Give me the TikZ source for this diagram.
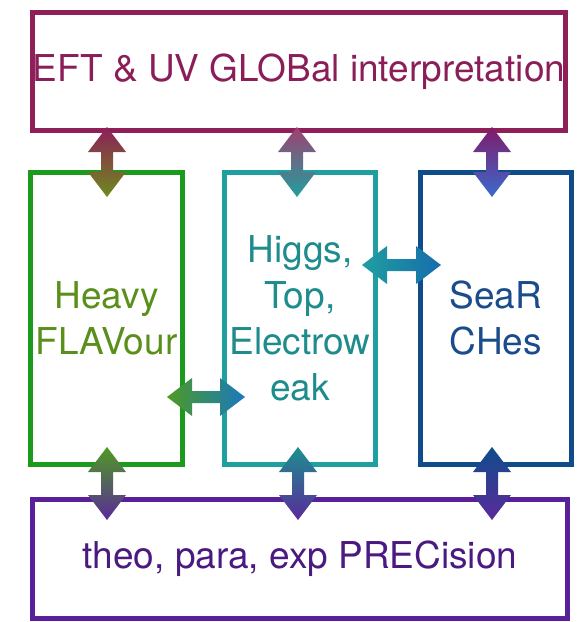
\documentclass[tikz,border=0pt]{standalone}
\usepackage{fontspec}
\setmainfont{TeX Gyre Heros}
\definecolor{cT}{HTML}{8E1F58}
\definecolor{cTt}{HTML}{8A1E58}
\definecolor{cL}{HTML}{1C9A1C}
\definecolor{cLt}{HTML}{5A8F1C}
\definecolor{cM}{HTML}{1F9F9F}
\definecolor{cMt}{HTML}{1E8C8C}
\definecolor{cR}{HTML}{0F4C8C}
\definecolor{cRt}{HTML}{1A4C8C}
\definecolor{cB}{HTML}{5A1F9A}
\definecolor{cBt}{HTML}{4A1A80}
\definecolor{aOl}{HTML}{6E8A1E}
\definecolor{aBl}{HTML}{3A6ACF}
\definecolor{aBh}{HTML}{1A78C0}
\definecolor{aGr}{HTML}{4E9A22}
\definecolor{aPu}{HTML}{5A2A9A}
\newcommand\myvarrow[5]{%
  \shade[top color=#4, bottom color=#5] (#1,#2) -- ++(19,25) -- ++(-13,0) -- (#1+6,#3-25) -- ++(13,0) -- (#1,#3) -- ++(-19,-25) -- ++(13,0) -- (#1-6,#2+25) -- ++(-13,0) -- cycle;}
\newcommand\myharrow[5]{%
  \shade[left color=#4, right color=#5] (#2,#1) -- ++(25,-19) -- ++(0,13) -- (#3-25,#1-6) -- ++(0,-13) -- (#3,#1) -- ++(-25,19) -- ++(0,-13) -- (#2+25,#1+6) -- ++(0,13) -- cycle;}
\tikzset{
  box/.style={draw, line width=5pt, inner sep=0pt, align=center,
    font=\fontsize{37}{46}\selectfont}
}
\begin{document}
\begin{tikzpicture}[x=1pt,y=-1pt]
\useasboundingbox (0,0) rectangle (580,622);
\node[box, draw=cT, text=cTt, minimum width=533pt, minimum height=118pt] (T) at (299,71.5) {EFT \& UV GLOBal interpretation};
\node[box, draw=cL, text=cLt, minimum width=152pt, minimum height=292pt] (L) at (106.5,318.5) {Heavy\\FLAVour};
\node[box, draw=cM, text=cMt, minimum width=151pt, minimum height=292pt] (M) at (300,318.5) {Higgs,\\Top,\\Electrow\\eak};
\node[box, draw=cR, text=cRt, minimum width=151pt, minimum height=292pt] (R) at (496,318.5) {SeaR\\CHes};
\node[box, draw=cB, text=cBt, minimum width=535pt, minimum height=119pt] (B) at (300,559) {theo, para, exp PRECision};
% vertical arrows top
\myvarrow{107}{127}{197}{cT}{aOl}
\myvarrow{297}{127}{197}{cT!85!white}{cM}
\myvarrow{492}{127}{197}{cT!90!blue}{aBl}
% horizontal arrows
\myharrow{397}{167}{245}{aGr}{aBh}
\myharrow{265}{362}{441}{cM}{aBh!90!black}
% vertical arrows bottom
\myvarrow{107}{447}{520}{aGr}{aPu}
\myvarrow{298}{447}{520}{cM!90!black}{aPu}
\myvarrow{492}{447}{520}{cR}{aPu}
\end{tikzpicture}
\end{document}
